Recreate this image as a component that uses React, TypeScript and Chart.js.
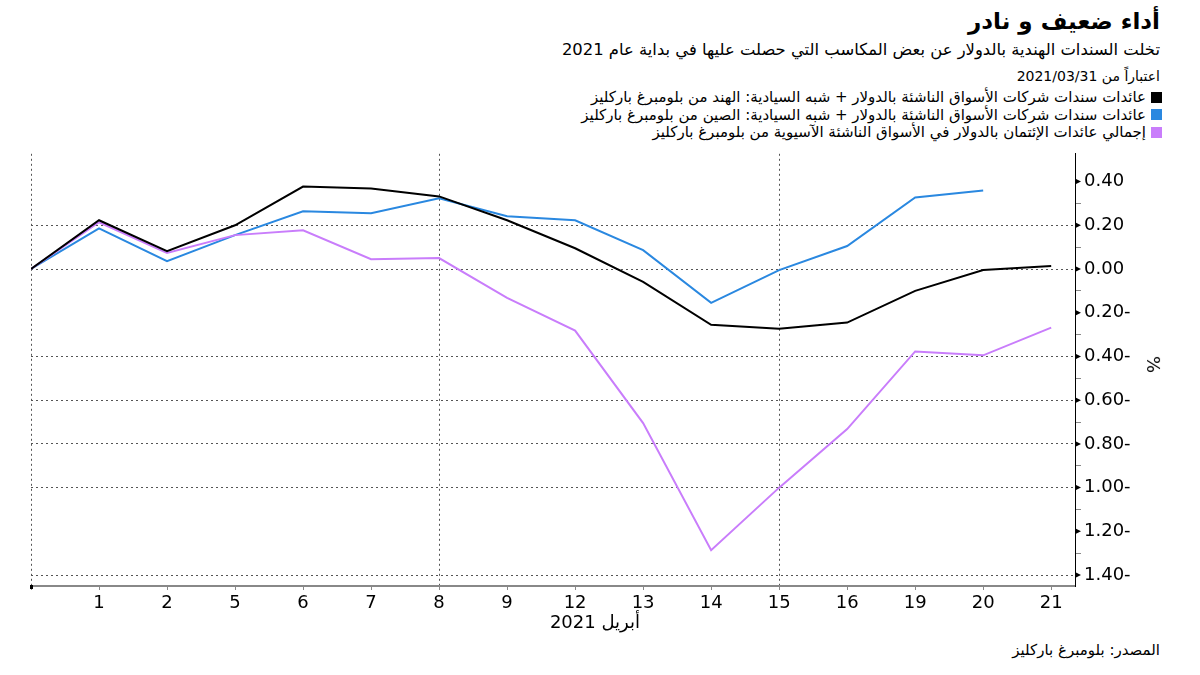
import React, { useEffect, useRef } from "react";
import { Chart, registerables } from "chart.js";

Chart.register(...registerables);

const xLabels = ["", "1", "2", "5", "6", "7", "8", "9", "12", "13", "14", "15", "16", "19", "20", "21"];
const indiaValues = [0, 0.223, 0.082, 0.2, 0.377, 0.368, 0.332, 0.223, 0.095, -0.059, -0.255, -0.273, -0.245, -0.1, -0.005, 0.014];
const chinaValues = [0, 0.186, 0.036, 0.155, 0.264, 0.255, 0.323, 0.241, 0.223, 0.086, -0.155, -0.005, 0.105, 0.327, 0.359, null];
const asiaValues = [0, 0.214, 0.073, 0.155, 0.177, 0.045, 0.05, -0.132, -0.282, -0.705, -1.286, -1.0, -0.732, -0.377, -0.395, -0.268];
const yTickValues = [0.4, 0.3, 0.2, 0.1, 0, -0.1, -0.2, -0.3, -0.4, -0.5, -0.6, -0.7, -0.8, -0.9, -1.0, -1.1, -1.2, -1.3, -1.4];
const yGridValues = [0.2, 0, -0.4, -0.6, -0.8, -1.0, -1.4];
const xGridIndices = [0, 6, 11];

const seriesNames = [
  "عائدات سندات شركات الأسواق الناشئة بالدولار + شبه السيادية: الهند من بلومبرغ باركليز",
  "عائدات سندات شركات الأسواق الناشئة بالدولار + شبه السيادية: الصين من بلومبرغ باركليز",
  "إجمالي عائدات الإئتمان بالدولار في الأسواق الناشئة الآسيوية من بلومبرغ باركليز",
];
const seriesColors = ["#000000", "#2a88e0", "#c97dfb"];

const r2 = (v: number) => Math.round(v * 100) / 100;
const isMajor = (v: number) => Math.round(r2(v) * 10) % 2 === 0;
const fmt = (v: number) => (v >= 0 ? v.toFixed(2) : `${Math.abs(v).toFixed(2)}-`);

const toPoints = (arr: (number | null)[]) =>
  arr.map((y, i) => ({ x: i, y })).filter((p) => p.y !== null) as { x: number; y: number }[];

const FONT = "'DejaVu Sans', sans-serif";

export default function App() {
  const canvasRef = useRef<HTMLCanvasElement | null>(null);

  useEffect(() => {
    if (!canvasRef.current) return;
    const triPlugin = {
      id: "tri",
      afterDraw(chart: any) {
        const ctx = chart.ctx;
        const y = chart.scales.y;
        const x = chart.scales.x;
        ctx.save();
        ctx.fillStyle = "#000";
        yTickValues.forEach((v) => {
          if (!isMajor(v)) return;
          const py = y.getPixelForValue(v);
          ctx.beginPath();
          ctx.moveTo(x.right, py - 3);
          ctx.lineTo(x.right + 6, py);
          ctx.lineTo(x.right, py + 3);
          ctx.closePath();
          ctx.fill();
        });
        ctx.fillRect(x.left - 1, x.top - 1, 3, 4);
        ctx.restore();
      },
    };
    const chart = new Chart(canvasRef.current, {
      type: "line",
      data: {
        datasets: [
          { label: seriesNames[0], data: toPoints(indiaValues), borderColor: seriesColors[0], order: 0 },
          { label: seriesNames[2], data: toPoints(asiaValues), borderColor: seriesColors[2], order: 1 },
          { label: seriesNames[1], data: toPoints(chinaValues), borderColor: seriesColors[1], order: 2 },
        ],
      },
      options: {
        animation: false,
        responsive: false,
        maintainAspectRatio: false,
        layout: { padding: { left: 31, top: 5, right: 0, bottom: 0 } },
        elements: {
          line: { borderWidth: 2, tension: 0 },
          point: { radius: 0 },
        },
        plugins: { legend: { display: false }, tooltip: { enabled: false } },
        scales: {
          x: {
            type: "linear",
            min: 0,
            max: 15.35,
            afterBuildTicks: (s: any) => {
              s.ticks = xLabels.map((_, i) => ({ value: i }));
            },
            afterFit: (s: any) => {
              s.height = 39;
            },
            ticks: {
              autoSkip: false,
              maxRotation: 0,
              padding: 3,
              color: "#000",
              font: { family: FONT, size: 18 },
              callback: (v: any) => xLabels[Math.round(Number(v))] ?? "",
            },
            grid: {
              drawOnChartArea: true,
              tickLength: 4,
              tickColor: "#888",
              color: (c: any) =>
                c.tick && xGridIndices.includes(Math.round(c.tick.value)) ? "#555" : "rgba(0,0,0,0)",
              lineWidth: 1,
            },
            border: { display: true, color: "#888", width: 2, dash: [2, 3] },
          },
          y: {
            type: "linear",
            position: "right",
            min: -1.45,
            max: 0.527,
            afterBuildTicks: (s: any) => {
              s.ticks = yTickValues.map((v) => ({ value: v }));
            },
            afterFit: (s: any) => {
              s.width = 125;
            },
            ticks: {
              autoSkip: false,
              padding: 3,
              color: "#000",
              font: { family: FONT, size: 18 },
              callback: (v: any) => (isMajor(Number(v)) ? fmt(Number(v)) : ""),
            },
            grid: {
              tickLength: 6,
              tickColor: (c: any) => (c.tick && isMajor(c.tick.value) ? "rgba(0,0,0,0)" : "#888"),
              color: (c: any) =>
                c.tick && yGridValues.some((g) => Math.abs(g - c.tick.value) < 1e-6) ? "#555" : "rgba(0,0,0,0)",
              lineWidth: 1,
            },
            border: { display: true, color: "#000", width: 1, dash: [2, 3] },
          },
        },
      },
      plugins: [triPlugin],
    } as any);
    return () => chart.destroy();
  }, []);

  const rtlText = (text: string, style: React.CSSProperties) => (
    <div dir="rtl" style={{ position: "absolute", right: 40, whiteSpace: "nowrap", fontFamily: FONT, color: "#000", ...style }}>
      {text}
    </div>
  );

  return (
    <div style={{ position: "fixed", left: 0, top: 0, width: 1200, height: 675, background: "#fff", overflow: "hidden" }}>
      {rtlText("أداء ضعيف و نادر", { top: 8, fontSize: 23, fontWeight: "bold" })}
      {rtlText("تخلت السندات الهندية بالدولار عن بعض المكاسب التي حصلت عليها في بداية عام 2021", { top: 40, fontSize: 16.4 })}
      {rtlText("اعتباراً من 2021/03/31", { top: 68, fontSize: 14 })}
      {seriesNames.map((name, i) => (
        <div
          key={i}
          dir="rtl"
          style={{
            position: "absolute",
            right: 38,
            top: 88 + i * 17.5,
            display: "flex",
            alignItems: "center",
            whiteSpace: "nowrap",
            fontFamily: FONT,
            fontSize: 15,
            color: "#000",
          }}
        >
          <span style={{ display: "inline-block", width: 11, height: 11, background: seriesColors[i], marginLeft: 5 }} />
          <span>{name}</span>
        </div>
      ))}
      <canvas ref={canvasRef} width={1200} height={485} style={{ position: "absolute", left: 0, top: 140, width: 1200, height: 485 }} />
      <div
        style={{
          position: "absolute",
          left: 1145,
          top: 354,
          fontFamily: FONT,
          fontSize: 18,
          transform: "rotate(90deg)",
        }}
      >
        %
      </div>
      {rtlText("أبريل 2021", { top: 611, right: 560, fontSize: 18 })}
      {rtlText("المصدر: بلومبرغ باركليز", { top: 641, fontSize: 15 })}
    </div>
  );
}
